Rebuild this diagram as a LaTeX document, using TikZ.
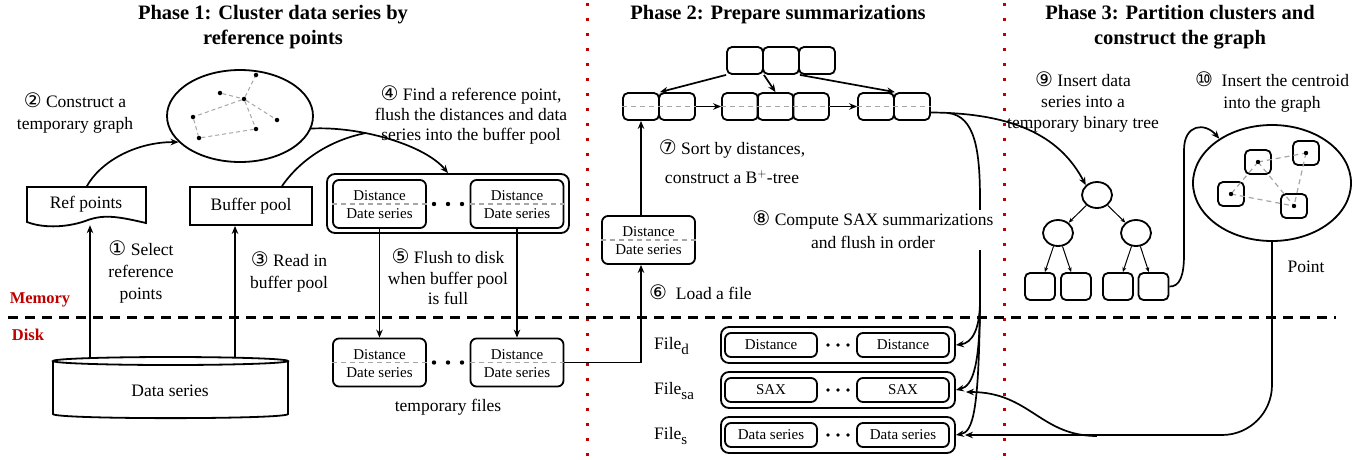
\documentclass[tikz,border=0pt]{standalone}
\usepackage{fontspec}
\setmainfont{Liberation Serif}
\newfontfamily\symf{DejaVu Sans}
\usetikzlibrary{arrows.meta,shapes.geometric,calc}
\definecolor{dred}{HTML}{C00000}
\definecolor{gline}{HTML}{A6A6A6}
\newcommand{\cn}[1]{{\symf\fontsize{20}{20}\selectfont #1}}
\newcommand{\mkdd}[3]{%
  \node[bx,minimum width=93pt,minimum height=48pt] (#1) at (#2,#3) {};
  \draw[gd] (#1.west) -- (#1.east);
  \node[sm] at ($(#1.center)+(0,-8)$) {Distance};
  \node[sm] at ($(#1.center)+(0,10)$) {Date series};
}
\begin{document}
\begin{tikzpicture}[x=1pt,y=-1pt,
 lbl/.style={font=\fontsize{17.5}{22}\selectfont,align=center,inner sep=0pt},
 ttl/.style={font=\bfseries\fontsize{20.5}{25}\selectfont,align=center,inner sep=0pt},
 sm/.style={font=\fontsize{15}{18}\selectfont,inner sep=0pt},
 bx/.style={draw,line width=1.8pt,rounded corners=6pt,inner sep=0pt},
 gd/.style={draw=gline,line width=1.2pt,dash pattern=on 5pt off 4pt},
 gd2/.style={draw=gline,line width=1pt,dash pattern=on 4pt off 3pt},
 arr/.style={line width=1.7pt,-{Stealth[length=8pt,width=6.5pt]}},
 tarr/.style={line width=1pt,-{Stealth[length=5pt,width=4pt]}},
 dotn/.style={circle,fill=black,inner sep=0pt,minimum size=4.5pt},
 cir/.style={ellipse,draw,line width=1.8pt,inner sep=0pt},
 memlbl/.style={font=\bfseries\fontsize{16.5}{20}\selectfont,text=dred,inner sep=0pt},
]
\useasboundingbox (0,0) rectangle (1366,459);

% separators
\draw[dred,line width=3pt,dash pattern=on 3pt off 12pt] (587,3) -- (587,459);
\draw[dred,line width=3pt,dash pattern=on 3pt off 12pt] (1004,3) -- (1004,459);
\draw[line width=3pt,dash pattern=on 10pt off 7pt] (8,317) -- (1336,317);
\node[memlbl] (mem) at (40,300) {Memory};
\node[memlbl] (disk) at (28,335) {Disk};

% titles
\node[ttl] (t1) at (273,27.5) {Phase 1: Cluster data series by\\reference points};
\node[ttl] (t2) at (778,15) {Phase 2: Prepare summarizations};
\node[ttl] (t3) at (1180,27.5) {Phase 3: Partition clusters and\\construct the graph};

% ---------- Phase 1 ----------
\node[cir,minimum width=146pt,minimum height=92pt] (ge) at (240,116) {};
\node[dotn] (g1) at (256,75) {};
\node[dotn] (g2) at (220,93) {};
\node[dotn] (g3) at (244,99) {};
\node[dotn] (g4) at (193,117) {};
\node[dotn] (g5) at (277,120) {};
\node[dotn] (g6) at (256,129) {};
\node[dotn] (g7) at (199,138) {};
\draw[gd2] (g2)--(g3) (g3)--(g1) (g3)--(g4) (g3)--(g5) (g3)--(g6) (g4)--(g7) (g7)--(g6);

% Ref points (document shape)
\node[minimum width=119pt,minimum height=38pt,inner sep=0pt] (refp) at (86.5,206) {};
\draw[line width=1.8pt] (27,187) -- (146,187) -- (146,223)
  .. controls (120,217) and (105,214) .. (88,220)
  .. controls (70,227) and (45,229) .. (27,222) -- cycle;
\node[lbl] (refT) at (86,204) {Ref points};

% Buffer pool
\node[draw,line width=1.8pt,minimum width=122pt,minimum height=38pt,inner sep=0pt,font=\fontsize{17.5}{22}\selectfont] (bp) at (251,206) {Buffer pool};

% Data series cylinder
\draw[line width=1.8pt,fill=white] (53,361) -- (53,414) .. controls (53,419.5) and (288,419.5) .. (288,414) -- (288,361);
\draw[line width=1.8pt] (170.5,361) ellipse [x radius=117.5,y radius=4];
\node[lbl] (dsT) at (170,391) {Data series};
\coordinate (dsA) at (90,357);
\coordinate (dsB) at (235,357);

\draw[arr] (dsA) -- (dsA |- refp.south);
\draw[arr] (dsB) -- (dsB |- bp.south);

% buffer container
\node[bx,rounded corners=8pt,minimum width=242pt,minimum height=59pt] (bc) at (448,203.5) {};
\mkdd{bufL}{379.5}{204}
\mkdd{bufR}{517}{204}
\foreach \x in {434,448,462} \fill (\x,204) circle (2.2);

% temporary files
\mkdd{tmpL}{379.5}{362.5}
\mkdd{tmpR}{517}{362.5}
\foreach \x in {434,448,462} \fill (\x,362.5) circle (2.2);
\draw[arr] (bufL.south) -- (tmpL.north);
\draw[arr] (bufR.south) -- (tmpR.north);

% curves phase 1
\draw[arr] (refp.north) .. controls (100,162) and (135,142) .. (ge.203);
\draw[arr] (ge.-10) .. controls (360,126) and (425,145) .. (bc.north);
\coordinate (jA) at (366,133);
\draw[line width=1.7pt] ($(bp.north)+(31,0)$) .. controls (300,160) and (330,140) .. (jA);

% labels phase 1
\node[lbl] (l2) at (75,113) {\cn{②} Construct a\\temporary graph};
\node[lbl] (l1) at (141,272) {\cn{①} Select\\reference\\points};
\node[lbl] (l3) at (289,272) {\cn{③} Read in\\buffer pool};
\node[lbl,font=\fontsize{17.5}{20}\selectfont] (l4) at (471,115) {\cn{④} Find a reference point,\\flush the distances and data\\series into the buffer pool};
\node[lbl,font=\fontsize{17.5}{20.5}\selectfont] (l5) at (448,277) {\cn{⑤} Flush to disk\\when buffer pool\\is full};
\node[lbl] (ltmp) at (448,407) {temporary files};

% ---------- Phase 2 ----------
\mkdd{p2f}{648.5}{240}

\foreach \n/\x in {r1/745,r2/781,r3/817}
  \node[bx,rounded corners=5pt,minimum width=36pt,minimum height=27pt] (\n) at (\x,60.5) {};
\foreach \n/\x in {lf1a/641,lf1b/677,lf2a/740,lf2b/775.5,lf2c/811,lf3a/876,lf3b/912}
  \node[bx,rounded corners=5pt,minimum width=36pt,minimum height=27pt] (\n) at (\x,106.5) {};
\draw[gd] (lf1a.west) -- (lf1b.east);
\draw[gd] (lf2a.west) -- (lf2c.east);
\draw[gd] (lf3a.west) -- (lf3b.east);
\draw[arr] (lf1b.east) -- (lf2a.west);
\draw[arr] (lf2c.east) -- (lf3a.west);
\draw[arr] (r1.south west) -- (lf1a.north east);
\draw[arr] (r1.south east) -- (lf2b.north);
\draw[arr] (r2.south east) -- (lf3a.north east);

\draw[arr] (tmpR.east) -| ($(p2f.south)+(-7.5,0)$);
\draw[arr] ($(p2f.north)+(-7.5,0)$) -- (lf1a.south);

% files
\foreach \n/\y/\t in {fd/345/Distance,fsa/390/SAX,fs/435/Data series}{
  \node[bx,rounded corners=8pt,minimum width=234pt,minimum height=36pt] (\n) at (838,\y) {};
  \node[bx,sm,minimum width=92pt,minimum height=24pt] (\n1) at (771,\y) {\t};
  \node[bx,sm,minimum width=92pt,minimum height=24pt] (\n2) at (903,\y) {\t};
  \foreach \x in {828,838,848} \fill (\x,\y) circle (1.9);
}
\node[lbl,anchor=west] (fdl) at (654,346) {File\raisebox{-0.5ex}{\fontsize{15}{15}\selectfont d}};
\node[lbl,anchor=west] (fsal) at (654,391) {File\raisebox{-0.5ex}{\fontsize{15}{15}\selectfont sa}};
\node[lbl,anchor=west] (fsl) at (654,436) {File\raisebox{-0.5ex}{\fontsize{15}{15}\selectfont s}};

% ---------- Phase 3 nodes ----------
\node[cir,minimum width=30pt,minimum height=26pt] (troot) at (1097,195) {};
\node[cir,minimum width=30pt,minimum height=26pt] (tl) at (1058,233) {};
\node[cir,minimum width=30pt,minimum height=26pt] (tr) at (1136,233) {};
\foreach \n/\x in {bl1/1040,bl2/1076,bl3/1118,bl4/1153.5}
  \node[bx,rounded corners=5pt,minimum width=30pt,minimum height=27pt] (\n) at (\x,286.5) {};
\draw[tarr] (troot) -- (tl);
\draw[tarr] (troot) -- (tr);
\draw[tarr] (tl) -- (bl1);
\draw[tarr] (tl) -- (bl2);
\draw[tarr] (tr) -- (bl3);
\draw[tarr] (tr) -- (bl4);

\node[cir,minimum width=158pt,minimum height=116pt] (pe) at (1272,183) {};
\foreach \n/\x/\y in {pb1/1258/162,pb2/1306/153,pb3/1231/194,pb4/1294/206}
  \node[bx,rounded corners=5pt,minimum width=26pt,minimum height=24pt] (\n) at (\x,\y) {};
\draw[gd] (pb1.center) -- (pb2.center) (pb1.center) -- (pb3.center) (pb1.center) -- (pb4.center)
  (pb2.center) -- (pb4.center) (pb3.center) -- (pb4.center);
\foreach \n in {pb1,pb2,pb3,pb4} \fill (\n.center) circle (2.2);

% curves from B+ tree
\coordinate (c0) at ($(lf3b.east)+(0,6)$);
\draw[arr] (c0) .. controls (1020,113) and (1062,140) .. (troot.north west);
\coordinate (fb0) at (948,113);
\coordinate (fk) at (980,300);
\draw[line width=1.7pt] (fb0) .. controls (975,116) and (980,150) .. (980,200) -- (fk);
\draw[arr] (fk) .. controls (980,330) and (972,343) .. (fd.east);
\draw[arr] (fk) .. controls (980,365) and (973,386) .. (fsa.east);
\draw[arr] (fk) .. controls (979,412) and (973,432) .. (fs.east);

\node[lbl,font=\fontsize{17.5}{23}\selectfont,fill=white,inner sep=1pt] (l8) at (873,230) {\cn{⑧} Compute SAX summarizations\\and flush in order};
\node[lbl,font=\fontsize{17.5}{29}\selectfont] (l7) at (732,162) {\cn{⑦} Sort by distances,\\construct a B$^{+}$-tree};
\node[lbl,anchor=west] (l6) at (649,292) {\cn{⑥}\ \ Load a file};

% ---------- Phase 3 connectors ----------
\draw[arr] (bl4.east) .. controls (1180,287) and (1184,275) .. (1184,255) -- (1184,150)
  .. controls (1184,124) and (1205,122) .. (pe.140);

\draw[arr,rounded corners=50pt] (pe.south) |- ($(fs.east)+(9,0)$);
\coordinate (br) at (1097,436);
\draw[arr] (br) .. controls (1040,436) and (1030,392) .. ($(fsa.east)+(10,2)$);

\node[lbl,font=\fontsize{17.5}{21}\selectfont] (l9) at (1083,102) {\cn{⑨} Insert data\\series into a\\temporary binary tree};
\node[lbl,font=\fontsize{17.5}{21}\selectfont] (l10) at (1272,92) {\cn{⑩}\ \ Insert the centroid\\into the graph};
\node[lbl] (lpt) at (1306,267) {Point};
\end{tikzpicture}
\end{document}
